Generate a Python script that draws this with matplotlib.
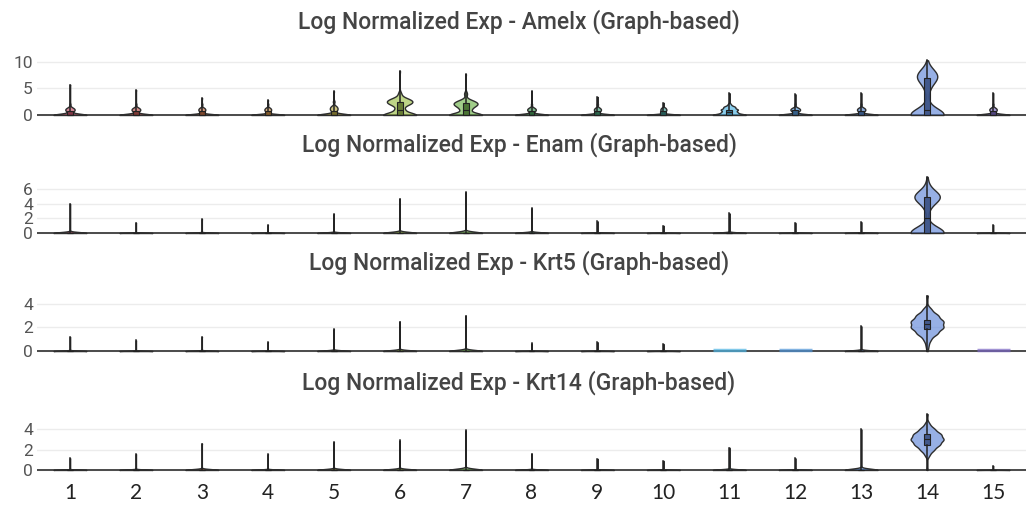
import numpy as np
import matplotlib.pyplot as plt
from matplotlib.colors import to_rgba, to_rgb

clusters = [str(i) for i in range(1, 16)]
genes = ['Amelx', 'Enam', 'Krt5', 'Krt14']

cluster_colors = ['#c24b63', '#c1524b', '#c66a3f', '#c98a3d', '#b2a33c',
                  '#9cbf47', '#6eb24a', '#3f9a52', '#3c9a72', '#3a9a92',
                  '#4cb2e2', '#4d93d6', '#4f80c8', '#5f86d8', '#7a66c2']

# expression levels and cell counts per cluster
amelx_vals = [[0, 0.7, 1.0, 1.3, 2.0, 5.7], [0, 0.7, 1.0, 1.3, 2.0, 4.7],
              [0, 0.7, 1.0, 1.3, 2.0, 3.2], [0, 0.7, 1.0, 1.3, 2.0, 2.8],
              [0, 0.8, 1.2, 1.6, 2.5, 4.5], [0, 1.0, 2.0, 2.5, 3.0, 4.0, 8.3],
              [0, 1.0, 1.7, 2.2, 2.7, 4.0, 7.7], [0, 0.7, 1.0, 1.3, 2.0, 4.5],
              [0, 0.7, 1.0, 1.3, 2.0, 3.4], [0, 0.7, 1.0, 1.3, 2.3],
              [0, 0.5, 1.0, 1.5, 2.0, 4.1], [0, 0.7, 1.0, 1.3, 2.0, 3.9],
              [0, 0.7, 1.0, 1.3, 2.0, 4.1],
              [0, 1.0, 2.0, 3.5, 5.0, 6.5, 7.5, 8.5, 10.3],
              [0, 0.7, 1.0, 1.3, 2.0, 4.1]]
amelx_cnts = [[60, 8, 10, 8, 2, 1], [60, 8, 10, 8, 2, 1], [60, 7, 9, 7, 2, 1],
              [60, 7, 9, 7, 2, 1], [60, 8, 10, 8, 3, 1], [45, 12, 15, 20, 15, 4, 1],
              [45, 12, 16, 20, 12, 4, 1], [60, 8, 10, 8, 2, 1], [60, 7, 9, 7, 2, 1],
              [60, 7, 9, 7, 1], [45, 20, 22, 15, 4, 1], [60, 9, 12, 9, 2, 1],
              [60, 8, 10, 8, 2, 1], [80, 14, 4, 3, 9, 24, 30, 14, 1],
              [60, 7, 9, 7, 2, 1]]

enam_max = [4.0, 1.4, 1.9, 1.1, 2.6, 4.7, 5.6, 3.4, 1.6, 1.0, 2.7, 1.4, 1.5, None, 1.1]
enam_c14_vals = [0, 0.7, 2.0, 3.5, 4.5, 5.0, 5.5, 6.5, 7.7]
enam_c14_cnts = [58, 10, 2, 7, 18, 22, 15, 4, 1]

krt5_max = [1.2, 0.9, 1.2, 0.75, 1.85, 2.5, 3.0, 0.65, 0.75, 0.6, 0, 0, 2.1, None, 0]
krt5_c14_vals = [0, 0.5, 1.0, 1.5, 2.0, 2.5, 3.0, 3.5, 4.7]
krt5_c14_cnts = [1, 2, 5, 14, 22, 22, 15, 6, 1]

krt14_max = [1.15, 1.55, 2.6, 1.55, 2.75, 2.9, 3.9, 1.6, 1.1, 0.9, 2.2, 1.15, 4.0, None, 0.4]
krt14_c14_vals = [0, 1.5, 2.0, 2.5, 3.0, 3.5, 4.0, 4.5, 5.5]
krt14_c14_cnts = [1, 4, 11, 20, 26, 22, 12, 4, 1]


def spike_data(maxes, c14_vals, c14_cnts):
    out = []
    for m in maxes:
        if m is None:
            out.append(np.repeat(c14_vals, c14_cnts).astype(float))
        elif m == 0:
            out.append(np.zeros(100))
        else:
            out.append(np.repeat([0, m], [99, 1]).astype(float))
    return out


datasets = {
    'Amelx': [np.repeat(v, c).astype(float) for v, c in zip(amelx_vals, amelx_cnts)],
    'Enam': spike_data(enam_max, enam_c14_vals, enam_c14_cnts),
    'Krt5': spike_data(krt5_max, krt5_c14_vals, krt5_c14_cnts),
    'Krt14': spike_data(krt14_max, krt14_c14_vals, krt14_c14_cnts),
}

yticks = {'Amelx': [0, 5, 10], 'Enam': [0, 2, 4, 6], 'Krt5': [0, 2, 4], 'Krt14': [0, 2, 4]}
ylims = {'Amelx': (-0.57, 11.3), 'Enam': (-0.55, 7.95), 'Krt5': (-0.25, 5.0), 'Krt14': (-0.3, 5.9)}
# (top px, bottom px, title center px)
rows = {'Amelx': (55, 118, 22), 'Enam': (175, 237, 145), 'Krt5': (292, 354, 263),
        'Krt14': (410, 473, 383)}

W, H = 1027, 508
fig = plt.figure(figsize=(W / 100, H / 100), dpi=100)
positions = np.arange(1, 16)


def darker(col, f=0.6):
    r, g, b = to_rgb(col)
    return (r * f, g * f, b * f, 0.9)


for gene in genes:
    top, bot, ty = rows[gene]
    ax = fig.add_axes([37 / W, 1 - bot / H, 989 / W, (bot - top) / H])
    ax.set_xlim(0.5, 15.5)
    ax.set_ylim(*ylims[gene])
    ax.yaxis.grid(True, color='#ececec', lw=1)
    ax.set_axisbelow(True)
    ax.axhline(0, color='#4a4a4a', lw=1.4, zorder=1)
    for s in ax.spines.values():
        s.set_visible(False)

    for pos, data, col in zip(positions, datasets[gene], cluster_colors):
        if np.ptp(data) == 0:
            ax.hlines(data[0] + 0.06, pos - 0.25, pos + 0.25, color=col, lw=2.5,
                      alpha=0.7, zorder=2)
            continue
        vp = ax.violinplot([data], positions=[pos], widths=0.5, showextrema=False,
                           bw_method=0.3)
        for b in vp['bodies']:
            b.set_alpha(None)
            b.set_facecolor(to_rgba(col, 0.65))
            b.set_edgecolor('#2e2e2e')
            b.set_linewidth(1.0)
            b.set_zorder(2)
        ax.boxplot([data], positions=[pos], widths=0.09, whis=(0, 100),
                   showfliers=False, showcaps=False, patch_artist=True,
                   boxprops=dict(facecolor=darker(col), edgecolor='#222222', lw=0.8),
                   whiskerprops=dict(color='#222222', lw=1.1),
                   medianprops=dict(color='#222222', lw=0.8),
                   zorder=3, manage_ticks=False)

    ax.set_yticks(yticks[gene])
    ax.tick_params(axis='y', length=0, pad=3, labelsize=12.5, labelcolor='#555555')
    for lab in ax.get_yticklabels():
        lab.set_fontfamily('Roboto')
    if gene == 'Krt14':
        ax.set_xticks(positions)
        ax.set_xticklabels(clusters, fontfamily='Lato', fontsize=15, color='#222222')
        ax.tick_params(axis='x', length=0, pad=7)
    else:
        ax.set_xticks([])

    fig.text(519 / W, 1 - ty / H, 'Log Normalized Exp - %s (Graph-based)' % gene,
             ha='center', va='center', fontsize=16.5, fontfamily='Roboto',
             fontweight='medium', color='#444444')

fig.savefig('out.png', dpi=100)
